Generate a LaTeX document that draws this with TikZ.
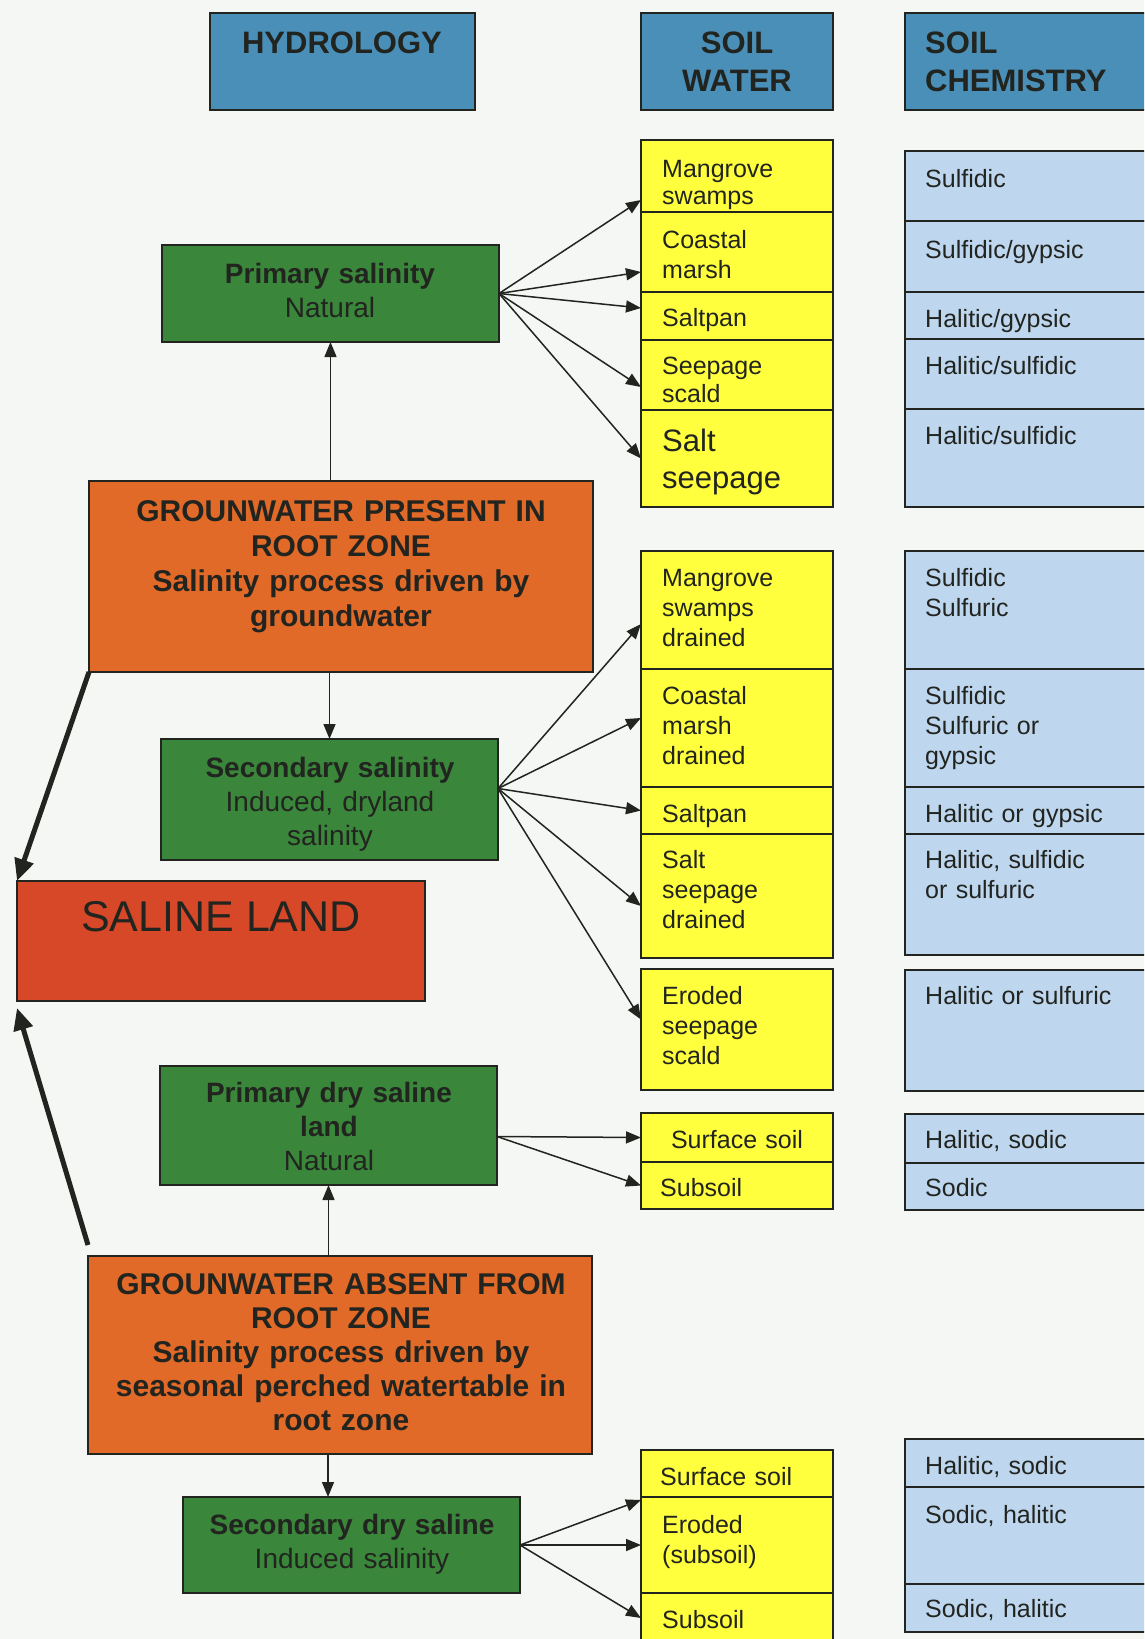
\documentclass[tikz,border=0pt]{standalone}
\usepackage{fontspec}
\setmainfont{Liberation Sans}
\usetikzlibrary{arrows.meta}
\definecolor{hblue}{RGB}{74,143,184}
\definecolor{cyellow}{RGB}{255,255,62}
\definecolor{cblue}{RGB}{190,215,238}
\definecolor{cgreen}{RGB}{58,134,58}
\definecolor{corange}{RGB}{226,106,40}
\definecolor{cred}{RGB}{214,72,40}
\definecolor{ink}{RGB}{34,36,32}
\definecolor{paper}{RGB}{245,247,244}
\tikzset{
    box/.style={draw=ink, line width=1.5pt, inner sep=0pt, outer sep=0pt, anchor=north west},
    head/.style={box, fill=hblue, minimum height=97pt},
    ycell/.style={box, fill=cyellow, minimum width=192pt},
    bcell/.style={box, fill=cblue, minimum width=250pt},
    gbox/.style={box, fill=cgreen, minimum width=337pt},
    obox/.style={box, fill=corange, minimum width=504pt},
    txt/.style={inner sep=0pt, text=ink, anchor=base west, align=left, text width=215pt, font=\fontsize{25}{30}\selectfont},
    htxt/.style={inner sep=0pt, text=ink, font=\bfseries\fontsize{31}{38}\selectfont},
    gtxt/.style={inner sep=0pt, text=ink, anchor=base, align=center, text width=330pt, font=\fontsize{28}{34}\selectfont},
    otxt/.style={inner sep=0pt, text=ink, anchor=base, align=center, text width=500pt, font=\bfseries\fontsize{30}{35}\selectfont},
    arr/.style={draw=ink, line width=1.5pt, -{Triangle[length=15pt,width=12pt]}},
    bigarr/.style={draw=ink, line width=5pt, -{Triangle[length=22pt,width=19pt]}}
}
\begin{document}
\begin{tikzpicture}[x=1pt, y=-1pt]
    \useasboundingbox (0,0) rectangle (1144,1639);
    \clip (0,0) rectangle (1144,1639);
    \fill[paper] (0,0) rectangle (1144,1639);

    % Headers
    \node[head, minimum width=265pt] (hyd) at (210,13) {};
    \node[head, minimum width=192pt] (sw) at (641,13) {};
    \node[head, minimum width=250pt] (sc) at (905,13) {};
    \node[htxt, anchor=base] (hydt) at (342,53) {HYDROLOGY};
    \node[htxt, anchor=base, align=center, text width=190pt] (swt) at (737,53) {SOIL\\WATER};
    \node[htxt, anchor=base west, align=left, text width=230pt] (sct) at (925,53) {SOIL\\CHEMISTRY};

    % Hydrology boxes
    \node[gbox, minimum height=97pt] (gps) at (162,245) {};
    \node[gtxt] (gpst) at (330,283) {\textbf{Primary salinity}\\Natural};
    \node[obox, minimum height=191pt] (ogp) at (89,481) {};
    \node[otxt] (ogpt) at (341,521) {GROUNWATER PRESENT IN\\ROOT ZONE\\Salinity process driven by\\groundwater};
    \node[gbox, minimum height=121pt] (gss) at (161,739) {};
    \node[gtxt] (gsst) at (330,777) {\textbf{Secondary salinity}\\Induced, dryland\\salinity};
    \node[box, fill=cred, minimum width=408pt, minimum height=120pt] (sl) at (17,881) {};
    \node[inner sep=0pt, text=ink, font=\fontsize{43}{50}\selectfont, anchor=base] (slt) at (221,931) {SALINE LAND};
    \node[gbox, minimum height=119pt] (gpd) at (160,1066) {};
    \node[gtxt] (gpdt) at (329,1102) {\textbf{Primary dry saline}\\\textbf{land}\\Natural};
    \node[obox, minimum height=198pt] (oga) at (88,1256) {};
    \node[otxt, font=\bfseries\fontsize{30}{34}\selectfont] (ogat) at (341,1294) {GROUNWATER ABSENT FROM\\ROOT ZONE\\Salinity process driven by\\seasonal perched watertable in\\root zone};
    \node[gbox, minimum height=96pt] (gsd) at (183,1497) {};
    \node[gtxt] (gsdt) at (352,1534) {\textbf{Secondary dry saline}\\Induced salinity};

    % Soil water, first group
    \node[ycell, minimum height=72pt] (ym1) at (641,140) {};
    \node[ycell, minimum height=80pt] (ym2) at (641,212) {};
    \node[ycell, minimum height=48pt] (ym3) at (641,292) {};
    \node[ycell, minimum height=70pt] (ym4) at (641,340) {};
    \node[ycell, minimum height=97pt] (ym5) at (641,410) {};
    \node[txt, font=\fontsize{25}{27}\selectfont] (ym1t) at (662,177) {Mangrove\\swamps};
    \node[txt] (ym2t) at (662,248) {Coastal\\marsh};
    \node[txt] (ym3t) at (662,326) {Saltpan};
    \node[txt, font=\fontsize{25}{28}\selectfont] (ym4t) at (662,374) {Seepage\\scald};
    \node[txt, font=\fontsize{31}{37}\selectfont] (ym5t) at (662,451) {Salt\\seepage};

    % Soil chemistry, first group
    \node[bcell, minimum height=70pt] (bm1) at (905,151) {};
    \node[bcell, minimum height=71pt] (bm2) at (905,221) {};
    \node[bcell, minimum height=47pt] (bm3) at (905,292) {};
    \node[bcell, minimum height=70pt] (bm4) at (905,339) {};
    \node[bcell, minimum height=98pt] (bm5) at (905,409) {};
    \node[txt] (bm1t) at (925,187) {Sulfidic};
    \node[txt] (bm2t) at (925,258) {Sulfidic/gypsic};
    \node[txt] (bm3t) at (925,327) {Halitic/gypsic};
    \node[txt] (bm4t) at (925,374) {Halitic/sulfidic};
    \node[txt] (bm5t) at (925,444) {Halitic/sulfidic};

    % Soil water, second group
    \node[ycell, minimum height=118pt] (yd1) at (641,551) {};
    \node[ycell, minimum height=118pt] (yd2) at (641,669) {};
    \node[ycell, minimum height=47pt] (yd3) at (641,787) {};
    \node[ycell, minimum height=124pt] (yd4) at (641,834) {};
    \node[ycell, minimum height=121pt] (yd5) at (641,969) {};
    \node[txt] (yd1t) at (662,586) {Mangrove\\swamps\\drained};
    \node[txt] (yd2t) at (662,704) {Coastal\\marsh\\drained};
    \node[txt] (yd3t) at (662,822) {Saltpan};
    \node[txt] (yd4t) at (662,868) {Salt\\seepage\\drained};
    \node[txt] (yd5t) at (662,1004) {Eroded\\seepage\\scald};

    % Soil chemistry, second group
    \node[bcell, minimum height=118pt] (bd1) at (905,551) {};
    \node[bcell, minimum height=118pt] (bd2) at (905,669) {};
    \node[bcell, minimum height=47pt] (bd3) at (905,787) {};
    \node[bcell, minimum height=121pt] (bd4) at (905,834) {};
    \node[bcell, minimum height=121pt] (bd5) at (905,970) {};
    \node[txt] (bd1t) at (925,586) {Sulfidic\\Sulfuric};
    \node[txt] (bd2t) at (925,704) {Sulfidic\\Sulfuric or\\gypsic};
    \node[txt] (bd3t) at (925,822) {Halitic or gypsic};
    \node[txt] (bd4t) at (925,868) {Halitic, sulfidic\\or sulfuric};
    \node[txt] (bd5t) at (925,1004) {Halitic or sulfuric};

    % Dry saline land
    \node[ycell, minimum height=49pt] (yp1) at (641,1113) {};
    \node[ycell, minimum height=47pt] (yp2) at (641,1162) {};
    \node[txt, anchor=base, align=center, text width=190pt] (yp1t) at (737,1148) {Surface soil};
    \node[txt] (yp2t) at (660,1196) {Subsoil};
    \node[bcell, minimum height=49pt] (bp1) at (905,1114) {};
    \node[bcell, minimum height=47pt] (bp2) at (905,1163) {};
    \node[txt] (bp1t) at (925,1148) {Halitic, sodic};
    \node[txt] (bp2t) at (925,1196) {Sodic};

    \node[ycell, minimum height=47pt] (ys1) at (641,1450) {};
    \node[ycell, minimum height=96pt] (ys2) at (641,1497) {};
    \node[ycell, minimum height=60pt] (ys3) at (641,1593) {};
    \node[txt] (ys1t) at (660,1485) {Surface soil};
    \node[txt] (ys2t) at (662,1533) {Eroded\\(subsoil)};
    \node[txt] (ys3t) at (662,1628) {Subsoil};
    \node[bcell, minimum height=48pt] (bs1) at (905,1439) {};
    \node[bcell, minimum height=97pt] (bs2) at (905,1487) {};
    \node[bcell, minimum height=48pt] (bs3) at (905,1584) {};
    \node[txt] (bs1t) at (925,1474) {Halitic, sodic};
    \node[txt] (bs2t) at (925,1523) {Sodic, halitic};
    \node[txt] (bs3t) at (925,1617) {Sodic, halitic};

    % edges
    \draw[arr] (gps.south |- ogp.north) -- (gps.south);
    \draw[arr] (gss.north |- ogp.south) -- (gss.north);
    \draw[arr] (gpd.south |- oga.north) -- (gpd.south);
    \draw[arr] ([xshift=-12pt]oga.south) -- ([xshift=-12pt]oga.south |- gsd.north);
    \draw[bigarr] (ogp.south west) -- (sl.north west);
    \draw[bigarr] ([yshift=11pt]oga.north west) -- ([yshift=-7pt]sl.south west);

    \draw[arr] (gps.east) -- ([yshift=-24pt]ym1.west);
    \draw[arr] (gps.east) -- ([yshift=-20pt]ym2.west);
    \draw[arr] (gps.east) -- ([yshift=8pt]ym3.west);
    \draw[arr] (gps.east) -- ([yshift=-12pt]ym4.west);
    \draw[arr] (gps.east) -- (ym5.west);

    \draw[arr] ([yshift=11pt]gss.east) -- ([yshift=-14pt]yd1.west);
    \draw[arr] ([yshift=11pt]gss.east) -- ([yshift=10pt]yd2.west);
    \draw[arr] ([yshift=11pt]gss.east) -- (yd3.west);
    \draw[arr] ([yshift=11pt]gss.east) -- ([yshift=-10pt]yd4.west);
    \draw[arr] ([yshift=11pt]gss.east) -- ([yshift=10pt]yd5.west);

    \draw[arr] ([yshift=-11pt]gpd.east) -- (yp1.west);
    \draw[arr] ([yshift=-11pt]gpd.east) -- (yp2.west);

    \draw[arr] (gsd.east) -- ([yshift=-3pt]ys2.north west);
    \draw[arr] (gsd.east) -- (ys2.west);
    \draw[arr] (gsd.east) -- ([yshift=5pt]ys3.west);
\end{tikzpicture}
\end{document}
